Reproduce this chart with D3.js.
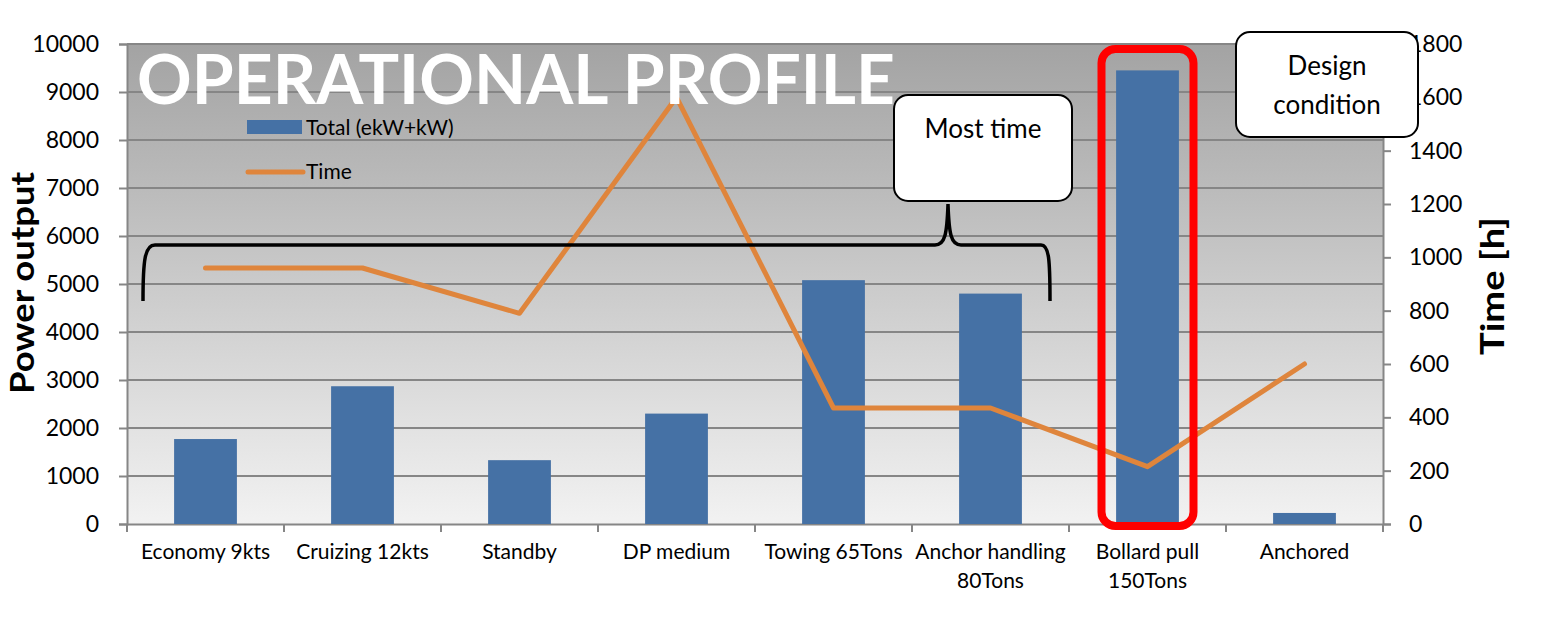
<!DOCTYPE html>
<html>
<head>
<meta charset="utf-8">
<script src="https://cdn.jsdelivr.net/npm/d3@7/dist/d3.min.js"></script>
<style>
  html, body { margin: 0; padding: 0; background: #fff; }
  svg { display: block; font-family: Lato, "Open Sans", sans-serif; }
</style>
</head>
<body>
<svg class="chart" width="1555" height="623"></svg>
<script>
const categories = [
  "Economy 9kts",
  "Cruizing 12kts",
  "Standby",
  "DP medium",
  "Towing 65Tons",
  "Anchor handling\n80Tons",
  "Bollard pull\n150Tons",
  "Anchored",
];
const power = [1770, 2870, 1330, 2300, 5080, 4800, 9450, 230];
const hours = [960, 960, 790, 1600, 435, 435, 215, 600];
const powerTicks = [0, 1000, 2000, 3000, 4000, 5000, 6000, 7000, 8000, 9000, 10000];
const timeTicks = [0, 200, 400, 600, 800, 1000, 1200, 1400, 1600, 1800];

const W = 1555;
const margin = { top: 44, left: 127, right: 172, bottom: 99 };
const width = W - margin.left - margin.right;
const height = 623 - margin.top - margin.bottom;
const $svg = d3.select(".chart");
const fontFam = 'Lato, "Open Sans", sans-serif';

const x = d3.scaleBand().domain(categories).range([0, width]);
const yL = d3.scaleLinear().domain([0, 10000]).range([height, 0]);
const yR = d3.scaleLinear().domain([0, 1800]).range([height, 0]);

// background gradient
const grad = $svg.append("defs").append("linearGradient")
  .attr("id", "bg").attr("x1", 0).attr("x2", 0).attr("y1", 0).attr("y2", 1);
grad.append("stop").attr("offset", "0%").attr("stop-color", "#a3a3a3");
grad.append("stop").attr("offset", "100%").attr("stop-color", "#f2f2f2");

const $g = $svg.append("g").attr("transform", `translate(${margin.left},${margin.top})`);
$g.append("rect").attr("width", width).attr("height", height).attr("fill", "url(#bg)");

// gridlines + left axis
const gridColor = "#868686";
const leftAxis = $g.append("g")
  .call(d3.axisLeft(yL).tickValues(powerTicks).tickSize(8).tickPadding(20).tickFormat(d3.format("d")))
  .attr("font-family", fontFam);
leftAxis.select(".domain").attr("stroke", gridColor).attr("stroke-width", 2);
leftAxis.selectAll(".tick line").attr("stroke", gridColor).attr("stroke-width", 2);
leftAxis.selectAll(".tick text").attr("font-size", 23).attr("fill", "#000");

$g.append("g").selectAll("line").data(powerTicks.slice(1)).join("line")
  .attr("x1", 0).attr("x2", width)
  .attr("y1", (d) => yL(d)).attr("y2", (d) => yL(d))
  .attr("stroke", gridColor).attr("stroke-width", 2);

const rightAxis = $g.append("g").attr("transform", `translate(${width},0)`)
  .call(d3.axisRight(yR).tickValues(timeTicks).tickSize(8).tickPadding(18).tickFormat(d3.format("d")))
  .attr("font-family", fontFam);
rightAxis.select(".domain").attr("stroke", gridColor).attr("stroke-width", 2);
rightAxis.selectAll(".tick line").attr("stroke", gridColor).attr("stroke-width", 2);
rightAxis.selectAll(".tick text").attr("font-size", 23).attr("fill", "#000");

// bottom axis
const bottomAxis = $g.append("g").attr("transform", `translate(0,${height})`)
  .call(d3.axisBottom(x).tickSize(0).tickPadding(0).tickFormat(""))
  .attr("font-family", fontFam);
bottomAxis.select(".domain").attr("stroke", gridColor).attr("stroke-width", 2);
$g.append("g").selectAll("line").data(categories.concat(["_end"])).join("line")
  .attr("x1", (d, i) => i * x.step()).attr("x2", (d, i) => i * x.step())
  .attr("y1", height).attr("y2", height + 8)
  .attr("stroke", gridColor).attr("stroke-width", 2);
bottomAxis.selectAll(".tick").each(function (d) {
  const t = d3.select(this).append("text")
    .attr("fill", "#000").attr("font-size", 21).attr("text-anchor", "middle");
  d.split("\n").forEach((line, i) => {
    t.append("tspan").attr("x", 0).attr("y", 35 + i * 29).text(line);
  });
});

// bars
const barW = x.bandwidth() * 0.4;
$g.append("g").selectAll("rect").data(power).join("rect")
  .attr("x", (d, i) => x(categories[i]) + (x.bandwidth() - barW) / 2)
  .attr("width", barW)
  .attr("y", (d) => yL(d))
  .attr("height", (d) => height - yL(d))
  .attr("fill", "#4571a5");

// time line
const line = d3.line()
  .x((d, i) => x(categories[i]) + x.bandwidth() / 2)
  .y((d) => yR(d));
$g.append("path").datum(hours)
  .attr("d", line).attr("fill", "none")
  .attr("stroke", "#df853c").attr("stroke-width", 5)
  .attr("stroke-linejoin", "round").attr("stroke-linecap", "round");

// title
$g.append("text").text("OPERATIONAL PROFILE")
  .attr("x", 10).attr("y", 60)
  .attr("font-size", 69).attr("font-weight", "bold").attr("fill", "#fff")
  .attr("textLength", 758).attr("lengthAdjust", "spacingAndGlyphs");

// legend
const $leg = $g.append("g").attr("transform", "translate(120,76)");
$leg.append("rect").attr("x", 0).attr("y", 0).attr("width", 55).attr("height", 14).attr("fill", "#4571a5");
$leg.append("text").text("Total (ekW+kW)").attr("x", 59).attr("y", 15).attr("font-size", 21);
$leg.append("line").attr("x1", 1).attr("x2", 56).attr("y1", 52).attr("y2", 52)
  .attr("stroke", "#df853c").attr("stroke-width", 5).attr("stroke-linecap", "round");
$leg.append("text").text("Time").attr("x", 59).attr("y", 59).attr("font-size", 21);

// red highlight round Bollard pull
const bp = categories[6];
$g.append("rect")
  .attr("x", x(bp) + x.bandwidth() / 2 - 46).attr("y", 5)
  .attr("width", 92).attr("height", height - 3)
  .attr("rx", 14).attr("fill", "none")
  .attr("stroke", "#ff0000").attr("stroke-width", 8);

// brace over first six categories
$g.append("path")
  .attr("d", "M16,257 C16,215 18,201 28,201 L808,201 C818,201 820,190 821,160 C822,190 824,201 834,201 L914,201 C922,201 923,215 923,257")
  .attr("fill", "none").attr("stroke", "#000").attr("stroke-width", 3.5);

// callouts
function callout(bx, by, bw, bh, lines, ty) {
  $svg.append("rect").attr("x", bx).attr("y", by).attr("width", bw).attr("height", bh)
    .attr("rx", 14).attr("fill", "#fff").attr("stroke", "#000").attr("stroke-width", 2);
  lines.forEach((l, i) => {
    $svg.append("text").text(l).attr("x", bx + bw / 2).attr("y", ty + i * 39)
      .attr("text-anchor", "middle").attr("font-size", 26).attr("fill", "#000");
  });
}
callout(894, 95, 178, 106, ["Most time"], 138);
callout(1236, 32, 182, 105, ["Design", "condition"], 75);

// axis titles
$svg.append("text").text("Power output")
  .attr("transform", `translate(34,${margin.top + 239}) rotate(-90)`)
  .attr("text-anchor", "middle").attr("font-size", 32).attr("font-weight", "bold")
  .attr("textLength", 222).attr("lengthAdjust", "spacingAndGlyphs");
$svg.append("text").text("Time [h]")
  .attr("transform", `translate(1504,${margin.top + 242}) rotate(-90)`)
  .attr("text-anchor", "middle").attr("font-size", 32).attr("font-weight", "bold")
  .attr("textLength", 138).attr("lengthAdjust", "spacingAndGlyphs");
</script>
</body>
</html>
